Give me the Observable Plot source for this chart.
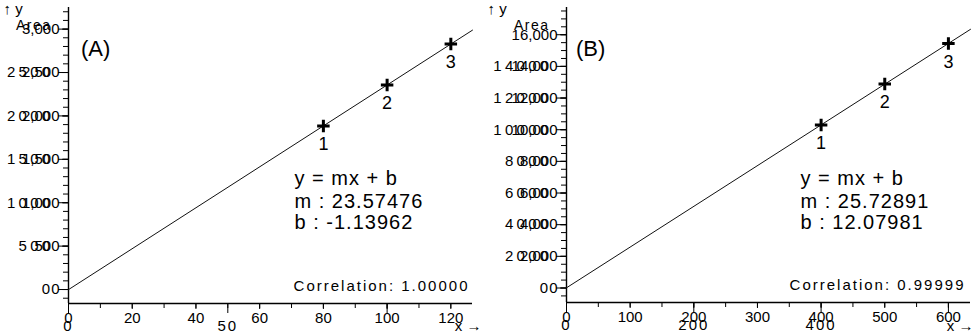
<!DOCTYPE html>
<html><head><meta charset="utf-8">
<script src="https://cdn.jsdelivr.net/npm/d3@7"></script>
<script src="https://cdn.jsdelivr.net/npm/@observablehq/plot@0.6"></script>
<style>
body{margin:0;background:#fff;}
#wrap{display:flex;width:976px;height:333px;background:#fff;}
svg text{font-family:"Liberation Sans",Arial,sans-serif;}
</style></head><body><div id="wrap"></div>
<script>
// Panel A data
const concA = [80, 100, 120];
const areaA = [1885, 2357, 2828];
const pointLabelsA = ["1", "2", "3"];
const slopeA = 23.57476;
const interceptA = -1.13962;
const corrA = 1.00000;
const yMajorTicksA = [0, 500, 1000, 1500, 2000, 2500, 3000];
const yLabelTicksA = [0, 500, 1000, 1500, 2000, 2500];
const xMajorTicksA = [0, 50, 100];
const xLabelTicksA = [0, 50];

// Panel B data
const concB = [400, 500, 600];
const areaB = [10300, 12880, 15450];
const pointLabelsB = ["1", "2", "3"];
const slopeB = 25.72891;
const interceptB = 12.07981;
const corrB = 0.99999;
const yMajorTicksB = [0, 2000, 4000, 6000, 8000, 10000, 12000, 14000, 16000];
const yLabelTicksB = [0, 2000, 4000, 6000, 8000, 10000, 12000, 14000];
const xMajorTicksB = [0, 200, 400, 600];
const xLabelTicksB = [0, 200, 400];

function panel(c) {
  const pts = c.x.map((x, i) => ({x, y: c.y[i], n: c.labels[i]}));
  const fit = c.xDomain.map(x => ({x, y: c.m * x + c.b}));
  const yFmt = d => c.yLabeled.includes(d) ? String(d) : "";
  const xFmt = d => c.xLabeled.includes(d) ? String(d) : "";
  const height = 333, mt = 7;
  // minor tick length (5px) expressed in each scale's units
  const xPerPx = (c.xDomain[1] - c.xDomain[0]) / (c.width - c.ml - c.mr);
  const yPerPx = (c.yDomain[1] - c.yDomain[0]) / (height - mt - c.mb);
  const minorLen = 5;
  const svg = Plot.plot({
    width: c.width, height,
    marginLeft: c.ml, marginRight: c.mr, marginTop: mt, marginBottom: c.mb,
    style: {fontFamily: '"Liberation Sans", Arial, sans-serif', fontSize: "15px", background: "white", color: "black", overflow: "visible"},
    x: {domain: c.xDomain},
    y: {domain: c.yDomain},
    marks: [
      Plot.ruleY(c.yMinor, {y: d => d, x1: c.xDomain[0], x2: c.xDomain[0] - minorLen * xPerPx, stroke: "black", strokeWidth: 1}),
      Plot.ruleX(c.xMinor, {x: d => d, y1: c.yDomain[0], y2: c.yDomain[0] - minorLen * yPerPx, stroke: "black", strokeWidth: 1}),
      Plot.axisY(c.yMajor, {tickSize: 10, tickPadding: 5, tickFormat: yFmt, fontSize: 15, label: null, ariaLabel: "ylab"}),
      Plot.axisX(c.xMajor, {tickSize: 10, tickPadding: 7, tickFormat: xFmt, fontSize: 15, label: null, ariaLabel: "xlab"}),
      Plot.ruleX([c.xDomain[0]], {stroke: "black", strokeWidth: 1.4}),
      Plot.ruleY([c.yDomain[0]], {stroke: "black", strokeWidth: 1.4}),
      Plot.line(fit, {x: "x", y: "y", stroke: "#111", strokeWidth: 1}),
      Plot.dot(pts, {x: "x", y: "y", symbol: "plus", r: 4.1, stroke: "black", strokeWidth: 3}),
      Plot.text(pts, {x: "x", y: "y", text: "n", dy: 18.5, fontSize: 18}),
      Plot.text(["Area"], {frameAnchor: "top-left", textAnchor: "end", dx: -17, dy: 12.5, fontSize: 14}),
      Plot.text([c.title], {frameAnchor: "top-left", textAnchor: "start", dx: c.titleDx, dy: 33, fontSize: 22}),
      Plot.text(["y = mx + b"], {frameAnchor: "top-left", textAnchor: "start", dx: c.eqDx, dy: 163.6, fontSize: 20}),
      Plot.text(["m : " + c.m.toFixed(5)], {frameAnchor: "top-left", textAnchor: "start", dx: c.eqDx, dy: 185.9, fontSize: 20}),
      Plot.text(["b : " + c.b.toFixed(5)], {frameAnchor: "top-left", textAnchor: "start", dx: c.eqDx, dy: 207.3, fontSize: 20}),
      Plot.text(["Correlation: " + c.corr.toFixed(5)], {frameAnchor: "bottom-right", textAnchor: "end", dx: c.corrDx, dy: -12.3, fontSize: 15})
    ]
  });
  // letter-spacing cannot be passed as a mark option; set it on the rendered texts
  const setLs = (t, ls) => { t.style.letterSpacing = ls; };
  svg.querySelectorAll('g[aria-label="ylab tick label"] text').forEach(t => setLs(t, "3.3px"));
  svg.querySelectorAll('g[aria-label="xlab tick label"] text').forEach(t => setLs(t, "2px"));
  svg.querySelectorAll("text").forEach(t => {
    const s = t.textContent;
    if (s.startsWith("Correlation")) setLs(t, "2px");
    else if (s.startsWith("y = ") || s.startsWith("m : ") || s.startsWith("b : ")) setLs(t, "1px");
    else if (s === "Area") setLs(t, "1.5px");
  });
  return svg;
}

const wrap = document.getElementById("wrap");
wrap.append(panel({
  x: concA, y: areaA, labels: pointLabelsA, m: slopeA, b: interceptA, corr: corrA, title: "(A)",
  width: 484, ml: 68, mr: 12, mb: 30,
  xDomain: [0, 126.8], yDomain: [-161, 3249],
  yMinor: d3.range(-100, 3201, 100), yMajor: yMajorTicksA, yLabeled: yLabelTicksA,
  xMinor: d3.range(0, 121, 10), xMajor: xMajorTicksA, xLabeled: xLabelTicksA,
  titleDx: 12.5, eqDx: 226, corrDx: -3
}));
wrap.append(panel({
  x: concB, y: areaB, labels: pointLabelsB, m: slopeB, b: interceptB, corr: corrB, title: "(B)",
  width: 492, ml: 82, mr: 6, mb: 31,
  xDomain: [0, 634.7], yDomain: [-916, 17720],
  yMinor: d3.range(-500, 17501, 500), yMajor: yMajorTicksB, yLabeled: yLabelTicksB,
  xMinor: d3.range(0, 601, 50), xMajor: xMajorTicksB, xLabeled: xLabelTicksB,
  titleDx: 9.5, eqDx: 234, corrDx: -5
}));
</script>
</body></html>
